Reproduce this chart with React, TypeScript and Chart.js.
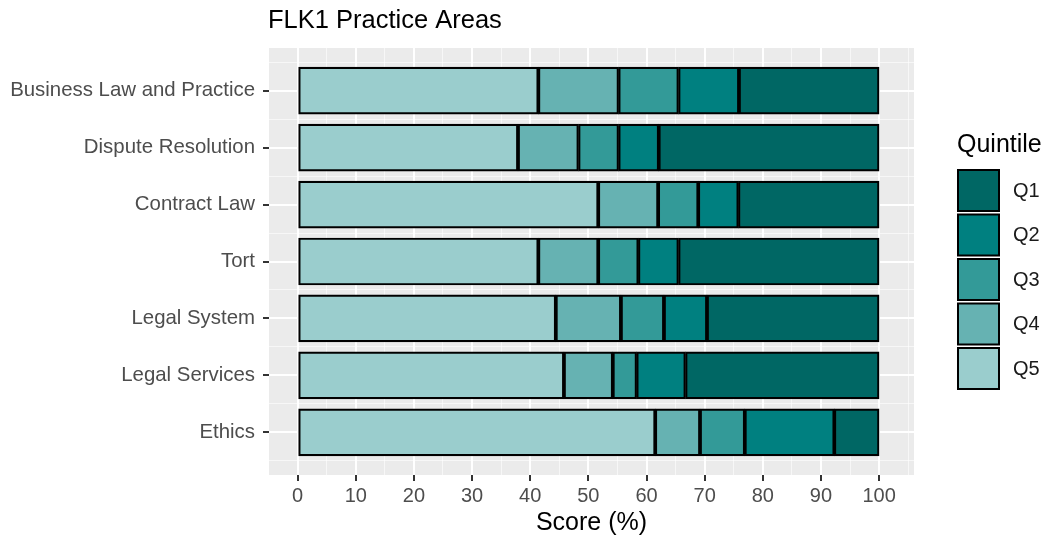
import { useEffect, useRef } from "react";
import { Chart, registerables } from "chart.js";

Chart.register(...registerables);

const categories = [
  "Business Law and Practice",
  "Dispute Resolution",
  "Contract Law",
  "Tort",
  "Legal System",
  "Legal Services",
  "Ethics",
];
const q5 = [41.4, 37.9, 51.7, 41.4, 44.4, 45.8, 61.5];
const q4 = [13.8, 10.4, 10.3, 10.3, 11.2, 8.4, 7.7];
const q3 = [10.3, 6.9, 6.9, 6.9, 7.4, 4.1, 7.7];
const q2 = [10.4, 6.9, 6.9, 6.9, 7.4, 8.4, 15.4];
const q1 = [24.1, 37.9, 24.2, 34.5, 29.6, 33.3, 7.7];
const quintileLabels = ["Q1", "Q2", "Q3", "Q4", "Q5"];
const quintileColors = ["#006764", "#008080", "#339a98", "#66b2b2", "#9acdcd"];
const xMajorTicks = [0, 10, 20, 30, 40, 50, 60, 70, 80, 90, 100];

const FONT = "'Liberation Sans', Arial, sans-serif";

const decoPlugin = {
  id: "deco",
  beforeDraw(chart: any) {
    const { ctx, chartArea } = chart;
    const { left, top, right, bottom } = chartArea;
    ctx.save();
    ctx.fillStyle = "#ffffff";
    ctx.fillRect(0, 0, chart.width, chart.height);
    ctx.fillStyle = "#ebebeb";
    ctx.fillRect(left, top, right - left, bottom - top);
    ctx.restore();
  },
  afterDraw(chart: any) {
    const { ctx, chartArea } = chart;
    const { left, right } = chartArea;
    ctx.save();
    ctx.fillStyle = "#000000";
    ctx.textBaseline = "middle";
    ctx.textAlign = "left";
    ctx.font = `25.5px ${FONT}`;
    ctx.fillText("FLK1 Practice Areas", left - 1, 21);
    ctx.font = `25px ${FONT}`;
    ctx.textAlign = "center";
    ctx.fillText("Score (%)", (left + right) / 2, 523);
    // legend
    ctx.textAlign = "left";
    ctx.fillText("Quintile", 957, 145);
    ctx.font = `20px ${FONT}`;
    for (let i = 0; i < quintileLabels.length; i++) {
      const y0 = 170 + i * 44.5;
      ctx.fillStyle = quintileColors[i];
      ctx.fillRect(958, y0, 41, 41);
      ctx.strokeStyle = "#000000";
      ctx.lineWidth = 2;
      ctx.strokeRect(958, y0, 41, 41);
      ctx.fillStyle = "#1a1a1a";
      ctx.fillText(quintileLabels[i], 1013, y0 + 21);
    }
    ctx.restore();
  },
};

export default function App() {
  const canvasRef = useRef<HTMLCanvasElement | null>(null);

  useEffect(() => {
    if (!canvasRef.current) return;
    const series = [
      { label: "Q5", values: q5, color: quintileColors[4] },
      { label: "Q4", values: q4, color: quintileColors[3] },
      { label: "Q3", values: q3, color: quintileColors[2] },
      { label: "Q2", values: q2, color: quintileColors[1] },
      { label: "Q1", values: q1, color: quintileColors[0] },
    ];
    const chart = new Chart(canvasRef.current, {
      type: "bar",
      data: {
        datasets: series.map((s) => ({
          label: s.label,
          data: categories.map((_, i) => ({ x: s.values[i], y: i + 1 })),
          backgroundColor: s.color,
          borderColor: "#000000",
          borderWidth: 2.2,
          borderSkipped: false,
          barThickness: 47,
        })),
      },
      options: {
        indexAxis: "y",
        responsive: false,
        animation: false,
        layout: { padding: { left: 0, right: 135, top: 48, bottom: 0 } },
        plugins: {
          legend: { display: false },
          tooltip: { enabled: false },
          title: { display: false },
        },
        scales: {
          x: {
            type: "linear",
            stacked: true,
            bounds: "data",
            offset: false,
            min: -4.92,
            max: 106,
            afterBuildTicks: (scale: any) => {
              const t = [];
              for (let v = 0; v <= 105; v += 5) t.push({ value: v });
              scale.ticks = t;
            },
            afterFit: (scale: any) => {
              scale.height = 65;
            },
            border: { display: false },
            grid: {
              offset: false,
              color: (ctx: any) =>
                ctx.tick && xMajorTicks.includes(ctx.tick.value) ? "#ffffff" : "rgba(255,255,255,0.6)",
              lineWidth: (ctx: any) =>
                ctx.tick && xMajorTicks.includes(ctx.tick.value) ? 2 : 1,
              tickColor: (ctx: any) =>
                ctx.tick && xMajorTicks.includes(ctx.tick.value) ? "#333333" : "rgba(0,0,0,0)",
              tickWidth: 2,
              tickLength: 6,
            },
            ticks: {
              autoSkip: false,
              maxRotation: 0,
              padding: 3,
              color: "#4d4d4d",
              font: { family: FONT, size: 20 },
              callback: (v: any) => (xMajorTicks.includes(Number(v)) ? String(v) : ""),
            },
          },
          y: {
            type: "linear",
            stacked: true,
            reverse: true,
            bounds: "data",
            offset: false,
            min: 0.25,
            max: 7.75,
            afterBuildTicks: (scale: any) => {
              const t = [];
              for (let v = 0.5; v <= 7.5; v += 0.5) t.push({ value: v });
              scale.ticks = t;
            },
            afterFit: (scale: any) => {
              scale.width = 269;
            },
            border: { display: false },
            grid: {
              offset: false,
              color: (ctx: any) =>
                ctx.tick && Number.isInteger(ctx.tick.value) ? "#ffffff" : "rgba(255,255,255,0.6)",
              lineWidth: (ctx: any) =>
                ctx.tick && Number.isInteger(ctx.tick.value) ? 2 : 1,
              tickColor: (ctx: any) =>
                ctx.tick && Number.isInteger(ctx.tick.value) ? "#333333" : "rgba(0,0,0,0)",
              tickWidth: 2,
              tickLength: 6,
            },
            ticks: {
              autoSkip: false,
              padding: 8,
              color: "#4d4d4d",
              font: { family: FONT, size: 20.4 },
              callback: (v: any) =>
                Number.isInteger(Number(v)) ? categories[Number(v) - 1] : "",
            },
          },
        },
      },
      plugins: [decoPlugin],
    } as any);
    return () => chart.destroy();
  }, []);

  return (
    <div style={{ position: "fixed", left: 0, top: 0, width: 1049, height: 540, background: "#fff" }}>
      <canvas ref={canvasRef} width={1049} height={540} style={{ display: "block" }} />
    </div>
  );
}
